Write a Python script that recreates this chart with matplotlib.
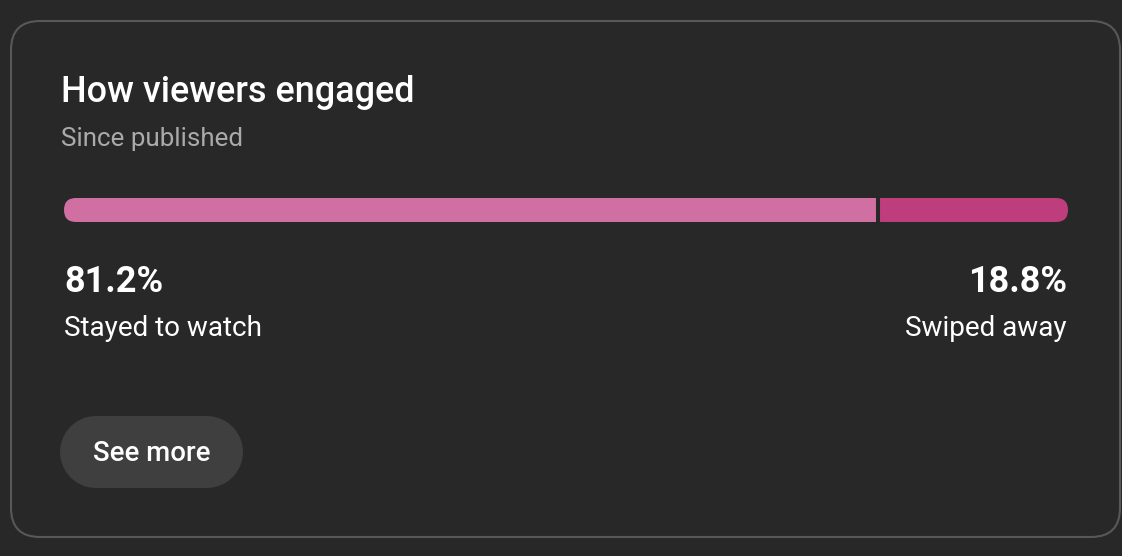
import numpy as np
import matplotlib.pyplot as plt
from matplotlib.patches import FancyBboxPatch

plt.rcParams['font.family'] = ['Roboto', 'DejaVu Sans']

# data
categories = ['Stayed to watch', 'Swiped away']
shares = np.array([81.2, 18.8])
colors = ['#D070A2', '#BE3D7C']
title = 'How viewers engaged'
subtitle = 'Since published'
button_text = 'See more'

bg = '#282828'
W, H = 1122, 556
px = 72 / 100  # points per pixel

fig = plt.figure(figsize=(W / 100, H / 100), dpi=100, facecolor=bg)
ax = fig.add_axes([0, 0, 1, 1])
ax.set_xlim(0, W)
ax.set_ylim(H, 0)
ax.axis('off')

# card
card = FancyBboxPatch((11, 21), 1109, 516, boxstyle='round,pad=0,rounding_size=29',
                      facecolor=bg, edgecolor='#585858', linewidth=1.5)
ax.add_patch(card)

ax.text(61, 102, title, color='white', fontsize=25.9, fontweight='medium', va='baseline')
ax.text(61, 146, subtitle, color='#AAAAAA', fontsize=18.7, va='baseline')

# stacked bar
bx0, bx1, by0, by1 = 64, 1068, 198, 222
axb = fig.add_axes([bx0 / W, (H - by1) / H, (bx1 - bx0) / W, (by1 - by0) / H])
axb.set_xlim(0, 100)
axb.set_ylim(-0.5, 0.5)
axb.axis('off')
lefts = np.concatenate([[0], np.cumsum(shares)[:-1]])
bars = axb.barh(0, shares, left=lefts, height=1, color=colors)
r = 12 / (bx1 - bx0)
clip = FancyBboxPatch((0, 0), 1, 1, boxstyle=f'round,pad=0,rounding_size={r}',
                      mutation_aspect=0.5 / r, transform=axb.transAxes,
                      facecolor='none', edgecolor='none')
axb.add_patch(clip)
for b in bars:
    b.set_clip_path(clip)
for x in np.cumsum(shares)[:-1]:
    axb.axvline(x - 0.1, color=bg, linewidth=2.9)

# labels
ax.text(64, 292, f'{shares[0]:.1f}%', color='white', fontsize=26, fontweight='bold', va='baseline')
ax.text(64, 336, categories[0], color='white', fontsize=20.1, va='baseline')
ax.text(1067, 292, f'{shares[1]:.1f}%', color='white', fontsize=26, fontweight='bold',
        va='baseline', ha='right')
ax.text(1067, 336, categories[1], color='white', fontsize=20.1, va='baseline', ha='right')

# button (pill)
ax.plot([96, 207], [452, 452], color='#3F3F3F', linewidth=72 * px, solid_capstyle='round')
ax.text(151.5, 461, button_text, color='white', fontsize=19.9, fontweight='medium',
        va='baseline', ha='center')

fig.savefig('out.png', dpi=100, facecolor=bg)
